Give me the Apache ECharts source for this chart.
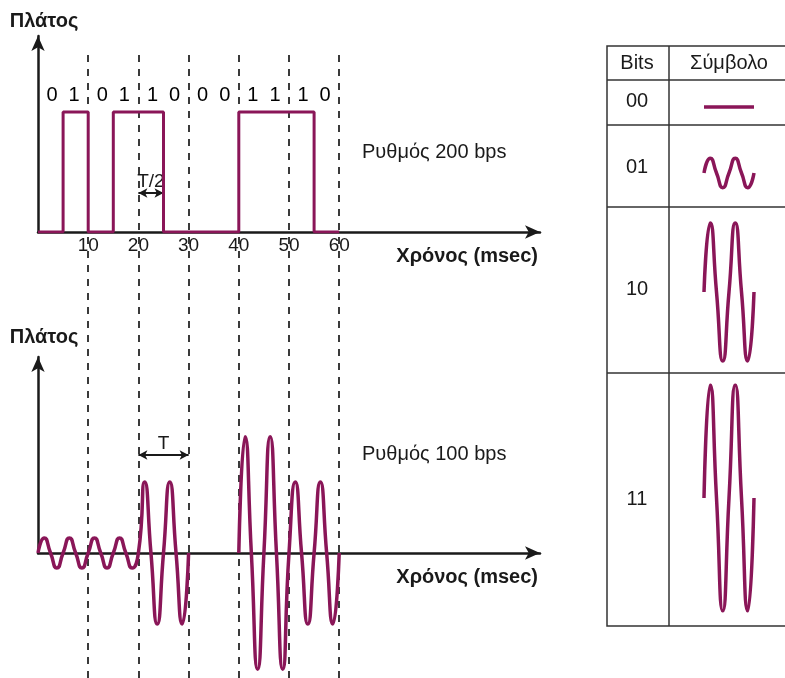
<!DOCTYPE html>
<html><head><meta charset="utf-8">
<script src="https://cdn.jsdelivr.net/npm/echarts@6/dist/echarts.min.js"></script>
<style>html,body{margin:0;padding:0;background:#fff}#c{width:785px;height:678px}</style>
</head><body><div id="c"></div>
<script>
// ---------------- data ----------------
const bits = ['0','1','0','1','1','0','0','0','1','1','1','0'];
const bitDuration = 5;          // ms per bit (200 bps)
const symbolDuration = 10;      // ms per 2-bit symbol
const cyclesPerSymbol = 2;
const symbolCodes = ['00','01','10','11'];
const symbolAmplitude = {'00': 0, '01': 0.13, '10': 0.61, '11': 1};
const tickValues = [10, 20, 30, 40, 50, 60];
const tickLabels = ['10', '20', '30', '40', '50', '60'];
const halfPeriodMark = [20, 25];   // T/2
const periodMark = [20, 30];       // T
const tableHeaders = ['Bits', 'Σύμβολο'];

// ---------------- layout ----------------
const FONT = 'Liberation Sans, Arial, sans-serif';
const WAVE = '#8a1658';
const INK = '#1a1a1a';
const X0 = 38, PX_PER_MS = 5.02;
const TOP_BASE = 232, TOP_TIP = 36, BOT_BASE = 553, BOT_TIP = 357, AXIS_END = 540;
const ARROW = [10, 15];
const TOP_UNIT = 120, BOT_UNIT = 116.3, TABLE_UNIT = 113;
const xMax = (AXIS_END - X0) / PX_PER_MS;
const yMaxTop = (TOP_BASE - TOP_TIP) / TOP_UNIT;
const yMaxBot = (BOT_BASE - BOT_TIP) / BOT_UNIT;

// table geometry
const TB = {left: 607, right: 800, top: 46, col: 669, rows: [80, 125, 207, 373, 626]};
const tableWaveLeft = 704, tableWaveWidth = 50;
const tableWaveCenters = [101, 173, 292, 498];

// ---------------- derived series ----------------
const digital = bits.map((b, i) => [i * bitDuration, Number(b)]);
digital.push([bits.length * bitDuration, Number(bits[bits.length - 1])]);

const symbols = [];
for (let i = 0; i < bits.length; i += 2) symbols.push(bits[i] + bits[i + 1]);

function wavePoints(code, t0, gapIfFlat) {
  const a = symbolAmplitude[code];
  const pattern = [0, 1, 0, -1];
  const step = symbolDuration / cyclesPerSymbol / 4;
  const pts = [];
  for (let q = 0; q < cyclesPerSymbol * 4; q++) {
    if (a === 0 && gapIfFlat && q > 0) pts.push([t0 + q * step, null]);
    else pts.push([t0 + q * step, pattern[q % 4] * a]);
  }
  return pts;
}
const wave = [];
symbols.forEach((s, k) => wave.push(...wavePoints(s, k * symbolDuration, true)));
wave.push([symbols.length * symbolDuration, 0]);

const bitLabelData = bits.map((b, i) => {
  const pair = Math.floor(i / 2);
  const t = pair * symbolDuration + symbolDuration / 2 + (i % 2 ? 2.2 : -2.2);
  return [t, 1.14, b];
});

// ---------------- axes helpers ----------------
const arrowLine = {show: true, symbol: ['none', 'arrow'], symbolSize: ARROW,
  lineStyle: {color: INK, width: 2.5}};

const grids = [
  {left: X0, top: TOP_TIP, width: xMax * PX_PER_MS, height: TOP_BASE - TOP_TIP},
  {left: X0, top: BOT_TIP, width: xMax * PX_PER_MS, height: BOT_BASE - BOT_TIP},
  {left: X0, top: 50, width: 60 * PX_PER_MS, height: 628},
];
symbolCodes.forEach((c, i) => grids.push({left: tableWaveLeft, width: tableWaveWidth,
  top: tableWaveCenters[i] - TABLE_UNIT, height: 2 * TABLE_UNIT}));

const xNameStyle = {fontFamily: FONT, fontWeight: 'bold', fontSize: 20, color: INK,
  align: 'right', verticalAlign: 'top', padding: [14, 2, 0, 0]};
const xAxes = [
  {gridIndex: 0, type: 'value', min: 0, max: xMax, interval: 10, axisLine: arrowLine,
   axisTick: {show: false}, splitLine: {show: false},
   axisLabel: {show: true, margin: 4, fontFamily: FONT, fontSize: 19, color: INK, showMaxLabel: false,
     formatter: v => { const k = tickValues.indexOf(Math.round(v)); return k >= 0 ? tickLabels[k] : ''; }},
   name: 'Χρόνος (msec)', nameLocation: 'end', nameGap: 0, nameTextStyle: xNameStyle},
  {gridIndex: 1, type: 'value', min: 0, max: xMax, interval: 10, axisLine: arrowLine,
   axisTick: {show: false}, splitLine: {show: false}, axisLabel: {show: false},
   name: 'Χρόνος (msec)', nameLocation: 'end', nameGap: 0, nameTextStyle: xNameStyle},
  {gridIndex: 2, type: 'value', min: 0, max: 60, show: false},
];
const yNameStyle = {fontFamily: FONT, fontWeight: 'bold', fontSize: 20, color: INK,
  align: 'center', padding: [0, 0, 0, 12]};
const yAxes = [
  {gridIndex: 0, type: 'value', min: 0, max: yMaxTop, axisLine: arrowLine, axisTick: {show: false},
   axisLabel: {show: false}, splitLine: {show: false},
   name: 'Πλάτος', nameLocation: 'end', nameGap: 5, nameTextStyle: yNameStyle},
  {gridIndex: 1, type: 'value', min: 0, max: yMaxBot, axisLine: arrowLine, axisTick: {show: false},
   axisLabel: {show: false}, splitLine: {show: false},
   name: 'Πλάτος', nameLocation: 'end', nameGap: 10, nameTextStyle: yNameStyle},
  {gridIndex: 2, type: 'value', min: 0, max: 1, show: false},
];
symbolCodes.forEach((c, i) => {
  xAxes.push({gridIndex: 3 + i, type: 'value', min: 0, max: symbolDuration, show: false});
  yAxes.push({gridIndex: 3 + i, type: 'value', min: -1, max: 1, show: false});
});

const arrowMarkStyle = {symbol: ['arrow', 'arrow'], symbolSize: [7, 9], silent: true,
  lineStyle: {color: INK, width: 2, type: 'solid'}};

const series = [
  {type: 'line', xAxisIndex: 2, yAxisIndex: 2, data: [], silent: true, z: 1,
   markLine: {symbol: ['none', 'none'], silent: true, label: {show: false},
     lineStyle: {color: '#3a3a3a', width: 2, type: [7, 7]},
     data: tickValues.map(v => ({xAxis: v}))}},
  {type: 'line', xAxisIndex: 0, yAxisIndex: 0, data: digital, step: 'end', showSymbol: false,
   lineStyle: {color: WAVE, width: 3}, z: 5,
   markLine: Object.assign({}, arrowMarkStyle, {
     label: {show: true, position: 'middle', formatter: 'T/2', fontFamily: FONT, fontSize: 19, color: INK, distance: 2},
     data: [[{coord: [halfPeriodMark[0], 0.325]}, {coord: [halfPeriodMark[1], 0.325]}]]})},
  {type: 'scatter', xAxisIndex: 0, yAxisIndex: 0, data: bitLabelData, symbolSize: 0, silent: true,
   itemStyle: {opacity: 1, color: 'rgba(0,0,0,0)'},
   label: {show: true, position: 'inside', formatter: p => p.data[2], fontFamily: FONT, fontSize: 20, color: '#000'}},
  {type: 'line', xAxisIndex: 1, yAxisIndex: 1, data: wave, smooth: 0.6, showSymbol: false, clip: false,
   connectNulls: false, lineStyle: {color: WAVE, width: 3.5}, z: 5,
   markLine: Object.assign({}, arrowMarkStyle, {
     label: {show: true, position: 'middle', formatter: 'T', fontFamily: FONT, fontSize: 19, color: INK, distance: 2},
     data: [[{coord: [periodMark[0], 0.843]}, {coord: [periodMark[1], 0.843]}]]})},
];
symbolCodes.forEach((c, i) => {
  const pts = wavePoints(c, 0, false);
  pts.push([symbolDuration, 0]);
  series.push({type: 'line', xAxisIndex: 3 + i, yAxisIndex: 3 + i, data: pts, smooth: 0.6,
    showSymbol: false, silent: true, lineStyle: {color: WAVE, width: 3.5}});
});

// ---------------- graphics: table & texts ----------------
const g = [];
g.push({type: 'rect', shape: {x: TB.left, y: TB.top, width: TB.right - TB.left, height: TB.rows[4] - TB.top},
  style: {fill: 'none', stroke: '#333', lineWidth: 1.5}, silent: true});
TB.rows.slice(0, 4).forEach(y => g.push({type: 'line', shape: {x1: TB.left, y1: y, x2: TB.right, y2: y},
  style: {stroke: '#333', lineWidth: 1.5}, silent: true}));
g.push({type: 'line', shape: {x1: TB.col, y1: TB.top, x2: TB.col, y2: TB.rows[4]},
  style: {stroke: '#333', lineWidth: 1.5}, silent: true});
function txt(text, x, y, align, weight) {
  return {type: 'text', x: x, y: y, silent: true,
    style: {text: text, fill: INK, font: (weight || 'normal') + ' 20px ' + FONT, align: align || 'center', verticalAlign: 'middle'}};
}
g.push(txt(tableHeaders[0], 637, 63));
g.push(txt(tableHeaders[1], 729, 63));
const rowCenters = [101, 167, 289, 499];
symbolCodes.forEach((c, i) => g.push(txt(c, 637, rowCenters[i])));
g.push(txt('Ρυθμός 200 bps', 362, 152, 'left'));
g.push(txt('Ρυθμός 100 bps', 362, 454, 'left'));

const chart = echarts.init(document.getElementById('c'));
chart.setOption({
  animation: false,
  backgroundColor: '#fff',
  grid: grids, xAxis: xAxes, yAxis: yAxes, series: series, graphic: g
});
</script></body></html>
